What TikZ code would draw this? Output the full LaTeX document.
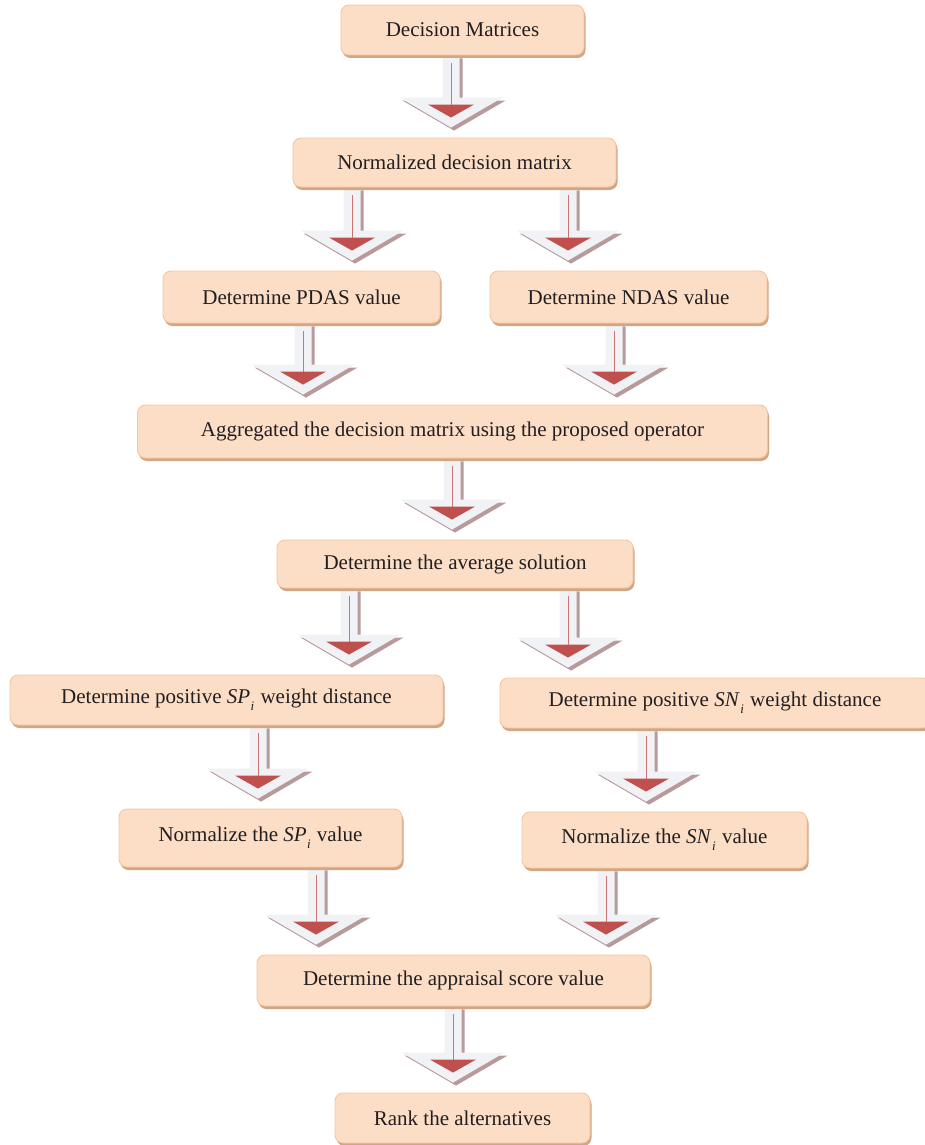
\documentclass[tikz,border=0pt]{standalone}
\usepackage{fontspec}
\setmainfont{Liberation Serif}
\usetikzlibrary{calc,shadows,backgrounds}
\definecolor{boxfill}{HTML}{FCDDC6}
\definecolor{boxdraw}{HTML}{F7C59C}
\definecolor{boxshadow}{HTML}{D2A585}
\definecolor{arrfill}{HTML}{F1F2F5}
\definecolor{arrshadow}{HTML}{B89A9C}
\definecolor{arrred}{HTML}{C0504D}
\definecolor{txt}{HTML}{231F20}
\tikzset{
  box/.style={draw=boxdraw, fill=boxfill, line width=0.9pt, rounded corners=8pt,
    text=txt, font=\fontsize{21}{25}\selectfont, inner sep=0pt,
    drop shadow={shadow xshift=1.5pt, shadow yshift=-3pt, fill=boxshadow, opacity=1}},
}
\newcommand\subi{\kern0.5pt\raisebox{-0.32em}{\fontsize{13}{13}\selectfont\textit{i}}\kern1pt}
\newcommand\blockarr[3]{%
  \path let \p1=(#2.south), \p2=(#3.north) in
    coordinate (arrT) at (#1pt,\y1) coordinate (arrB) at (#1pt,\y2+10pt);
  \fill[arrshadow] ([shift={(-5.5pt,-3pt)}]arrT) -- ([shift={(11.5pt,-3pt)}]arrT)
    -- ([shift={(11.5pt,27pt)}]arrB) -- ([shift={(54.5pt,27pt)}]arrB)
    -- ([shift={(3pt,-3pt)}]arrB) -- ([shift={(-48.5pt,27pt)}]arrB)
    -- ([shift={(-5.5pt,27pt)}]arrB) -- cycle;
  \fill[arrfill] ([shift={(-8.5pt,0pt)}]arrT) -- ([shift={(8.5pt,0pt)}]arrT)
    -- ([shift={(8.5pt,30pt)}]arrB) -- ([shift={(51.5pt,30pt)}]arrB)
    -- (arrB) -- ([shift={(-51.5pt,30pt)}]arrB)
    -- ([shift={(-8.5pt,30pt)}]arrB) -- cycle;
  \fill[arrred] ([shift={(-23pt,23pt)}]arrB) -- ([shift={(23pt,23pt)}]arrB)
    -- ([shift={(0pt,10pt)}]arrB) -- cycle;
  \draw[arrred!80, line width=0.8pt] ([shift={(0pt,-8pt)}]arrT) -- ([shift={(0pt,23pt)}]arrB);
}
\begin{document}
\begin{tikzpicture}[x=1pt,y=-1pt]
\useasboundingbox (0,0) rectangle (925,1145);
\node[box, minimum width=243pt, minimum height=50pt] (b1) at (462.5,30) {Decision Matrices};
\node[box, minimum width=323pt, minimum height=49pt] (b2) at (454.5,162.5) {Normalized decision matrix};
\node[box, minimum width=277pt, minimum height=52pt] (b3) at (301.5,297) {Determine PDAS value};
\node[box, minimum width=277pt, minimum height=52pt] (b4) at (628.5,297) {Determine NDAS value};
\node[box, minimum width=630pt, minimum height=53pt] (b5) at (452.5,431.5) {Aggregated the decision matrix using the proposed operator};
\node[box, minimum width=356pt, minimum height=48pt] (b6) at (455,564) {Determine the average solution};
\node[box, minimum width=433pt, minimum height=50pt] (b7) at (226.5,700) {Determine positive \textit{SP}\subi{} weight distance};
\node[box, minimum width=430pt, minimum height=50pt] (b8) at (715,703) {Determine positive \textit{SN}\subi{} weight distance};
\node[box, minimum width=283pt, minimum height=58pt] (b9) at (260.5,838) {Normalize the \textit{SP}\subi{} value};
\node[box, minimum width=285pt, minimum height=56pt] (b10) at (664.5,840) {Normalize the \textit{SN}\subi{} value};
\node[box, minimum width=393pt, minimum height=51pt] (b11) at (453.5,980.5) {Determine the appraisal score value};
\node[box, minimum width=255pt, minimum height=50pt] (b12) at (462.5,1118) {Rank the alternatives};
\begin{scope}[on background layer]
\fill[white] (0,0) rectangle (925,1145);
\blockarr{451}{b1}{b2}
\blockarr{352}{b2}{b3}
\blockarr{568}{b2}{b4}
\blockarr{303}{b3}{b5}
\blockarr{614}{b4}{b5}
\blockarr{452}{b5}{b6}
\blockarr{349}{b6}{b7}
\blockarr{568}{b6}{b8}
\blockarr{258}{b7}{b9}
\blockarr{646}{b8}{b10}
\blockarr{316}{b9}{b11}
\blockarr{606}{b10}{b11}
\blockarr{453}{b11}{b12}
\end{scope}
\end{tikzpicture}
\end{document}
